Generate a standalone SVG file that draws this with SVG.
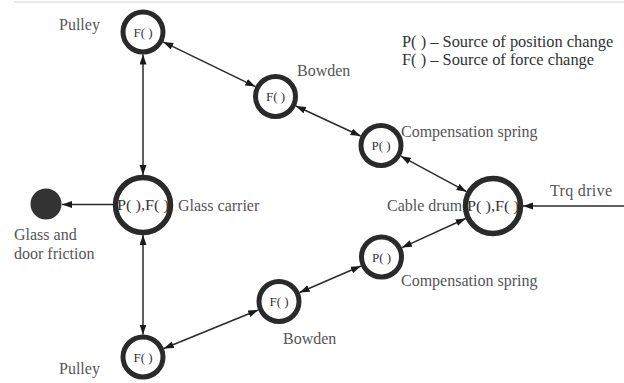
<svg xmlns="http://www.w3.org/2000/svg" width="624" height="383" viewBox="0 0 624 383">
<style>
.n{fill:#fff;stroke:#2a2a2a;stroke-width:5}
.nb{fill:#fff;stroke:#2a2a2a;stroke-width:5.5}
.nt{font-family:"Liberation Serif",serif;font-size:13px;fill:#333;text-anchor:middle}
.nt2{font-family:"Liberation Serif",serif;font-size:14px;fill:#333}
.lb{font-family:"Liberation Serif",serif;font-size:16px;fill:#555}
.lg{font-family:"Liberation Serif",serif;font-size:16.4px;fill:#333}
.c{stroke:#2a2a2a;stroke-width:1.5;fill:none}
</style>
<defs>
<marker id="ah" markerUnits="userSpaceOnUse" markerWidth="11" markerHeight="8" refX="10" refY="3.5" orient="auto-start-reverse">
<path d="M0,0 L10,3.5 L0,7 z" fill="#1a1a1a"/>
</marker>
</defs>
<line x1="14" y1="2" x2="624" y2="2" stroke="#e2e2e2" stroke-width="1.5"/>
<g id="connectors">
<line class="c" x1="163.2" y1="41.9" x2="255.3" y2="86.6" marker-start="url(#ah)" marker-end="url(#ah)"/>
<line class="c" x1="295.9" y1="106" x2="360.6" y2="136" marker-start="url(#ah)" marker-end="url(#ah)"/>
<line class="c" x1="400.8" y1="156.2" x2="466.6" y2="191.7" marker-start="url(#ah)" marker-end="url(#ah)"/>
<line class="c" x1="465.7" y1="218.5" x2="402" y2="247.6" marker-start="url(#ah)" marker-end="url(#ah)"/>
<line class="c" x1="360.9" y1="266" x2="299.6" y2="292.5" marker-start="url(#ah)" marker-end="url(#ah)"/>
<line class="c" x1="258.2" y1="310" x2="163.8" y2="348.5" marker-start="url(#ah)" marker-end="url(#ah)"/>
<line class="c" x1="143" y1="54.5" x2="143" y2="175" marker-start="url(#ah)" marker-end="url(#ah)"/>
<line class="c" x1="143" y1="235" x2="143" y2="334.5" marker-start="url(#ah)" marker-end="url(#ah)"/>
<line class="c" x1="113" y1="204.5" x2="62" y2="204.5" marker-end="url(#ah)"/>
<line class="c" x1="624" y1="206" x2="523" y2="206" marker-end="url(#ah)"/>
</g>
<g id="pulley-top">
<circle class="n" cx="143" cy="32" r="20"/>
<text class="nt" x="143" y="36.5">F( )</text>
<text class="lb" x="59" y="30">Pulley</text>
</g>
<g id="bowden-top">
<circle class="n" cx="275.5" cy="96.5" r="20"/>
<text class="nt" x="275.5" y="101">F( )</text>
<text class="lb" x="297" y="76">Bowden</text>
</g>
<g id="comp-spring-top">
<circle class="n" cx="381" cy="145.5" r="20"/>
<text class="nt" x="381" y="150">P( )</text>
<text class="lb" x="401" y="137">Compensation spring</text>
</g>
<g id="cable-drum">
<circle class="nb" cx="493" cy="206" r="27.5"/>
<text class="nt2" x="467" y="211" textLength="52" lengthAdjust="spacingAndGlyphs">P( ),F( )</text>
<text class="lb" x="387" y="210.5">Cable drum</text>
</g>
<g id="comp-spring-bottom">
<circle class="n" cx="381.5" cy="257" r="20"/>
<text class="nt" x="381.5" y="261.5">P( )</text>
<text class="lb" x="401" y="286">Compensation spring</text>
</g>
<g id="bowden-bottom">
<circle class="n" cx="279" cy="301.5" r="20"/>
<text class="nt" x="279" y="306">F( )</text>
<text class="lb" x="283" y="344">Bowden</text>
</g>
<g id="pulley-bottom">
<circle class="n" cx="143" cy="357" r="20"/>
<text class="nt" x="143" y="361.5">F( )</text>
<text class="lb" x="59" y="374">Pulley</text>
</g>
<g id="glass-carrier">
<circle class="nb" cx="143" cy="205" r="27.5"/>
<text class="nt2" x="117" y="210" textLength="52" lengthAdjust="spacingAndGlyphs">P( ),F( )</text>
<text class="lb" x="178" y="210.5">Glass carrier</text>
</g>
<g id="friction">
<circle cx="46" cy="204" r="15.5" fill="#333"/>
<text class="lb" x="14" y="240">Glass and</text>
<text class="lb" x="14" y="259">door friction</text>
</g>
<g id="trq-drive">
<text class="lb" x="550" y="196" textLength="62">Trq drive</text>
</g>
<g id="legend">
<text class="lg" x="402" y="46.5">P( ) – Source of position change</text>
<text class="lg" x="402" y="65">F( ) – Source of force change</text>
</g>
</svg>
